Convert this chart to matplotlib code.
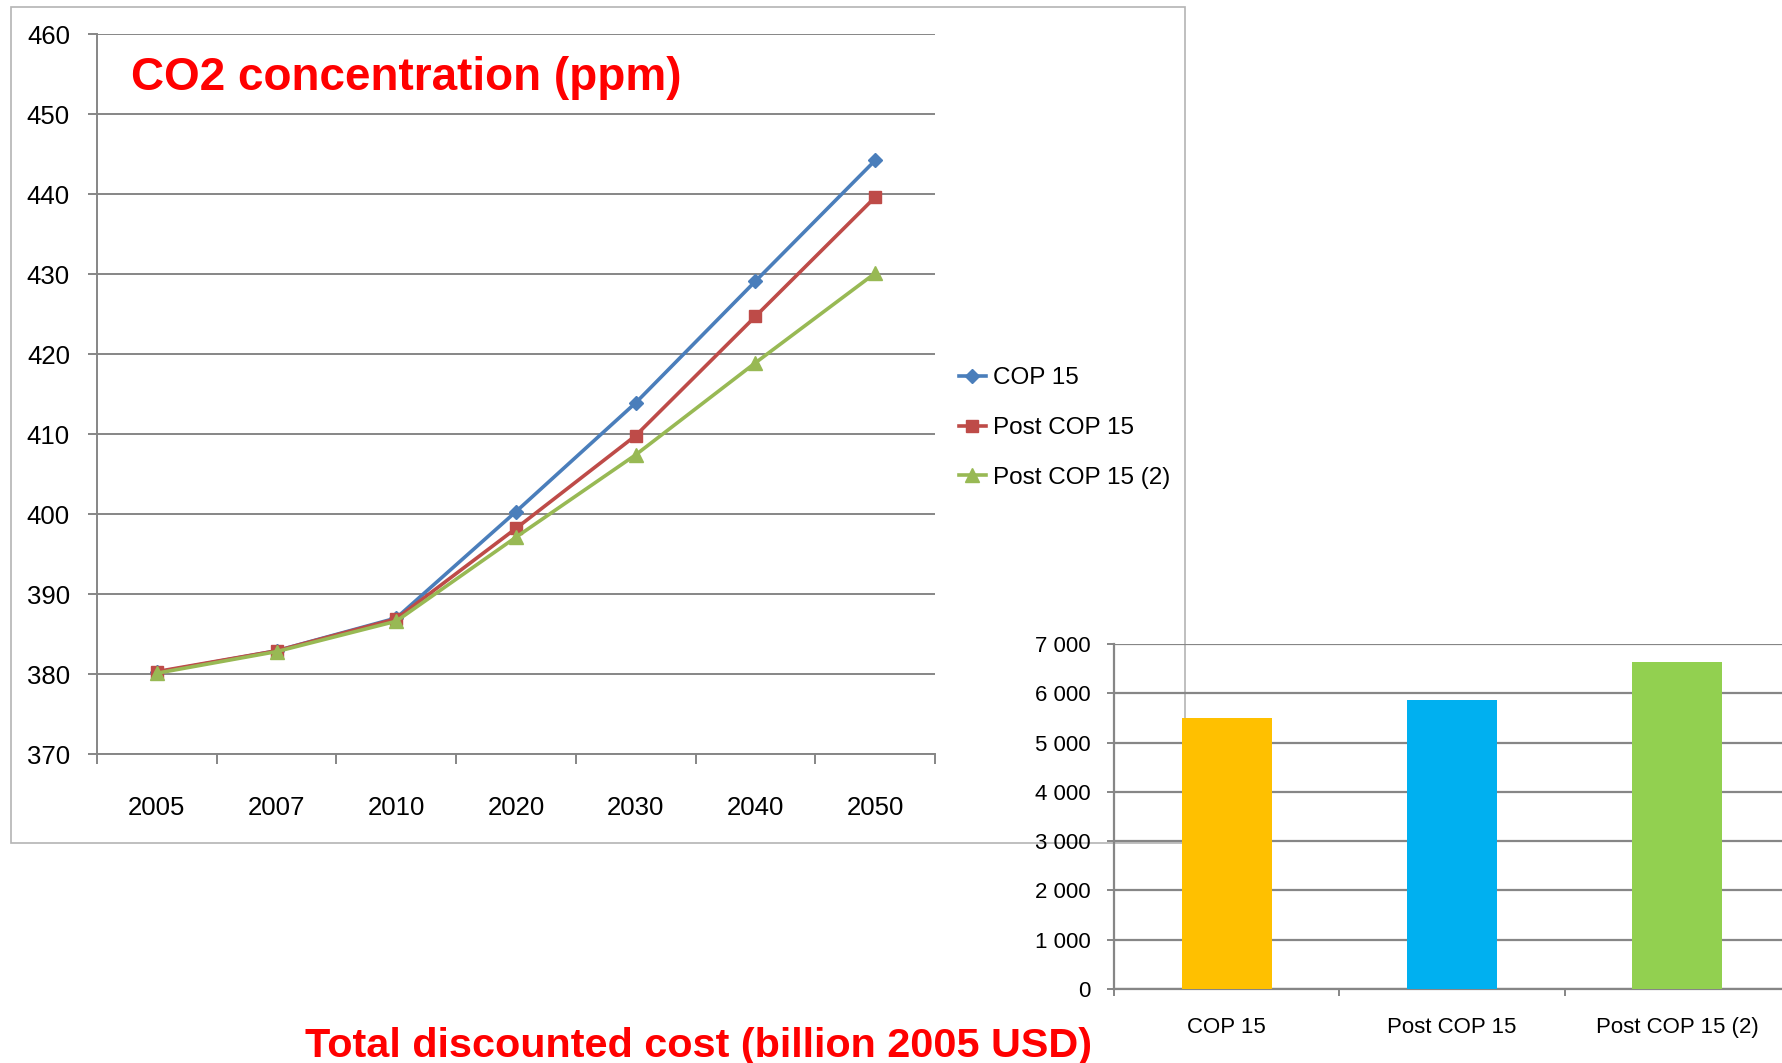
import numpy as np
import matplotlib
matplotlib.use('Agg')
import matplotlib.pyplot as plt
from matplotlib.patches import Rectangle
from matplotlib.ticker import FuncFormatter

# CO2 concentration (ppm) per scenario
years = ['2005', '2007', '2010', '2020', '2030', '2040', '2050']
cop15 = [380.2, 382.9, 387.0, 400.3, 413.9, 429.1, 444.2]
post_cop15 = [380.3, 382.9, 386.9, 398.2, 409.8, 424.7, 439.6]
post_cop15_2 = [380.1, 382.8, 386.6, 397.1, 407.4, 418.9, 430.1]

# Total discounted cost (billion 2005 USD)
scenarios = ['COP 15', 'Post COP 15', 'Post COP 15 (2)']
total_cost = [5500, 5860, 6630]

plt.rcParams['font.family'] = ['Liberation Sans', 'DejaVu Sans']

W, H = 1783, 1063
GRID = '#868686'


# pixel box (left, top, right, bottom) -> figure fractions
def box(l, t, r, b):
    return [l / W, 1 - b / H, (r - l) / W, (b - t) / H]


fig = plt.figure(figsize=(W / 100, H / 100), dpi=100)

# frame of the line chart
fig.patches.append(Rectangle((11 / W, 1 - 843 / H), (1185 - 11) / W, (843 - 7) / H,
                             transform=fig.transFigure, fill=False,
                             edgecolor='#B4B4B4', lw=1.2, zorder=-5))

# line chart
ax1 = fig.add_axes(box(97, 34, 935, 754))
x = np.arange(len(years))
ax1.plot(x, cop15, color='#4A7EBB', lw=2.6, marker='D', ms=7.5, label='COP 15')
ax1.plot(x, post_cop15, color='#BE4B48', lw=2.6, marker='s', ms=8.5, label='Post COP 15')
ax1.plot(x, post_cop15_2, color='#98B954', lw=2.6, marker='^', ms=9.5, label='Post COP 15 (2)')
ax1.set_xlim(-0.5, len(years) - 0.5)
ax1.set_ylim(370, 460)
ax1.set_yticks(range(370, 461, 10))
ax1.grid(axis='y', color=GRID, lw=1.4)
ax1.set_axisbelow(True)
ax1.set_xticks(x, years)
ax1.set_xticks(np.arange(-0.5, len(years)), minor=True)
ax1.tick_params(axis='x', which='major', length=0, pad=30, labelsize=18.5)
ax1.tick_params(axis='x', which='minor', length=7, width=1.4, color=GRID)
ax1.tick_params(axis='y', length=6.5, width=1.4, color=GRID, pad=13, labelsize=18.5)
for s in ['top', 'right']:
    ax1.spines[s].set_visible(False)
for s in ['left', 'bottom']:
    ax1.spines[s].set_color(GRID)
    ax1.spines[s].set_linewidth(1.4)

ax1.legend(loc='center left', bbox_to_anchor=(959 / W, 1 - 428 / H),
           bbox_transform=fig.transFigure, frameon=False, fontsize=17.5,
           handlelength=1.1, handletextpad=0.3, labelspacing=1.15,
           borderpad=0, borderaxespad=0)

fig.text(131 / W, 1 - 90 / H, 'CO2 concentration (ppm)', color='#FF0000',
         fontsize=33, fontweight='bold', ha='left', va='baseline')

# bar chart
ax2 = fig.add_axes(box(1114, 644, 1790, 989))
ax2.patch.set_alpha(0)
ax2.bar(range(len(scenarios)), total_cost, width=0.4,
        color=['#FFC000', '#00B0F0', '#92D050'], zorder=3)
ax2.set_xlim(-0.5, len(scenarios) - 0.5)
ax2.set_ylim(0, 7000)
ax2.set_yticks(range(0, 7001, 1000))
ax2.yaxis.set_major_formatter(FuncFormatter(lambda v, p: f'{int(v):,}'.replace(',', ' ')))
ax2.grid(axis='y', color=GRID, lw=1.6)
ax2.set_axisbelow(True)
ax2.set_xticks(range(len(scenarios)), scenarios)
ax2.set_xticks(np.arange(-0.5, len(scenarios)), minor=True)
ax2.tick_params(axis='x', which='major', length=0, pad=20, labelsize=16)
ax2.tick_params(axis='x', which='minor', length=5, width=1.4, color=GRID)
ax2.tick_params(axis='y', length=5, width=1.4, color=GRID, pad=12, labelsize=16)
for s in ['top', 'right']:
    ax2.spines[s].set_visible(False)
for s in ['left', 'bottom']:
    ax2.spines[s].set_color(GRID)
    ax2.spines[s].set_linewidth(1.6)

fig.text(305 / W, 1 - 1057 / H, 'Total discounted cost (billion 2005 USD)', color='#FF0000',
         fontsize=29.8, fontweight='bold', ha='left', va='baseline')

fig.savefig('out.png', dpi=100)
